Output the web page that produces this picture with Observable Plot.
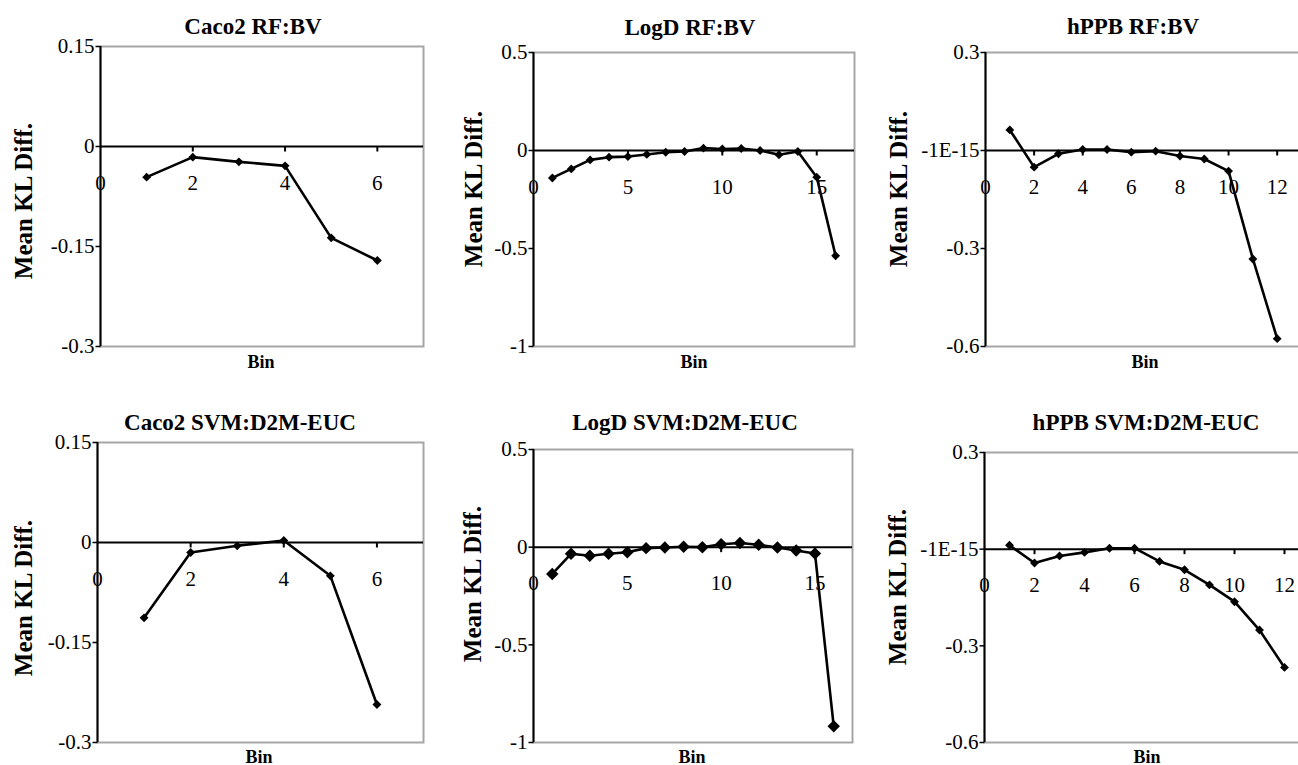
<!DOCTYPE html>
<html><head><meta charset="utf-8">
<script src="https://cdn.jsdelivr.net/npm/d3@7"></script>
<script src="https://cdn.jsdelivr.net/npm/@observablehq/plot@0.6"></script>
<style>
html,body{margin:0;padding:0;background:#fff;overflow:hidden;width:1298px;height:765px;}
#root{position:relative;width:1298px;height:765px;font-family:"Liberation Serif","Times New Roman",serif;color:#000;}
.lbl{position:absolute;transform:translate(-50%,-50%);white-space:nowrap;line-height:1;font-weight:bold;}
.rot{transform:translate(-50%,-50%) rotate(-90deg);}
.pan{position:absolute;}
</style></head><body><div id="root"></div><script>
// ---- data ----
const caco2Bins = [1, 2, 3, 4, 5, 6];
const logdBins = [1, 2, 3, 4, 5, 6, 7, 8, 9, 10, 11, 12, 13, 14, 15, 16];
const hppbBins = [1, 2, 3, 4, 5, 6, 7, 8, 9, 10, 11, 12];

const caco2RF  = [-0.046, -0.016, -0.023, -0.029, -0.137, -0.171];
const caco2SVM = [-0.113, -0.015, -0.005, 0.003, -0.050, -0.243];
const logdRF   = [-0.140, -0.094, -0.048, -0.034, -0.031, -0.020, -0.009, -0.005, 0.012, 0.008, 0.010, 0.000, -0.022, -0.005, -0.136, -0.537];
const logdSVM  = [-0.137, -0.034, -0.044, -0.034, -0.026, -0.005, -0.002, 0.002, 0.000, 0.015, 0.021, 0.012, -0.002, -0.017, -0.032, -0.917];
const hppbRF   = [0.063, -0.051, -0.010, 0.003, 0.003, -0.005, -0.002, -0.017, -0.026, -0.063, -0.332, -0.576];
const hppbSVM  = [0.012, -0.043, -0.021, -0.010, 0.003, 0.003, -0.038, -0.064, -0.111, -0.163, -0.251, -0.367];

const caco2XTicks = [0, 2, 4, 6];
const caco2XDomain = [0, 7];
const caco2YTicks = [0.15, 0, -0.15, -0.3];
const caco2YLabels = ["0.15", "0", "-0.15", "-0.3"];

const logdXTicks = [0, 5, 10, 15];
const logdXDomain = [0, 17];
const logdYTicks = [0.5, 0, -0.5, -1];
const logdYLabels = ["0.5", "0", "-0.5", "-1"];

const hppbXTicks = [0, 2, 4, 6, 8, 10, 12];
const hppbXDomain = [0, 13];
const hppbYTicks = [0.3, 0, -0.3, -0.6];
const hppbYLabels = ["0.3", "-1E-15", "-0.3", "-0.6"];

const titles = ["Caco2 RF:BV", "LogD RF:BV", "hPPB RF:BV", "Caco2 SVM:D2M-EUC", "LogD SVM:D2M-EUC", "hPPB SVM:D2M-EUC"];
const yAxisLabel = "Mean KL Diff.";
const xAxisLabel = "Bin";

// ---- layout (positions only) ----
const layout = [
  {box: [100, 46, 423, 346], titleC: [253, 26], ylabC: [22.5, 201], binC: [261, 362], r: 4},
  {box: [533, 52, 854, 346], titleC: [690, 27], ylabC: [472.5, 189], binC: [694, 362], r: 4},
  {box: [985, 52, 1301, 346], titleC: [1133, 25.5], ylabC: [897.5, 189], binC: [1145, 362], r: 4},
  {box: [97, 442, 423, 742], titleC: [240, 421.5], ylabC: [22.5, 597.5], binC: [259, 757], r: 4},
  {box: [533, 449, 852, 742], titleC: [685, 421.5], ylabC: [472, 584], binC: [692, 757], r: 5.6},
  {box: [984, 452, 1309, 742], titleC: [1146, 421.5], ylabC: [897, 587], binC: [1147, 757], r: 4}
];

const series = [
  {bins: caco2Bins, values: caco2RF, xTicks: caco2XTicks, xDomain: caco2XDomain, yTicks: caco2YTicks, yLabels: caco2YLabels},
  {bins: logdBins, values: logdRF, xTicks: logdXTicks, xDomain: logdXDomain, yTicks: logdYTicks, yLabels: logdYLabels},
  {bins: hppbBins, values: hppbRF, xTicks: hppbXTicks, xDomain: hppbXDomain, yTicks: hppbYTicks, yLabels: hppbYLabels},
  {bins: caco2Bins, values: caco2SVM, xTicks: caco2XTicks, xDomain: caco2XDomain, yTicks: caco2YTicks, yLabels: caco2YLabels},
  {bins: logdBins, values: logdSVM, xTicks: logdXTicks, xDomain: logdXDomain, yTicks: logdYTicks, yLabels: logdYLabels},
  {bins: hppbBins, values: hppbSVM, xTicks: hppbXTicks, xDomain: hppbXDomain, yTicks: hppbYTicks, yLabels: hppbYLabels}
];

const tickDown = {draw(ctx) { ctx.moveTo(0, 0); ctx.lineTo(0, 5); }};
const tickLeft = {draw(ctx) { ctx.moveTo(0, 0); ctx.lineTo(-5, 0); }};
const TICKFONT = 21;

const root = document.getElementById("root");
const ML = 80, MR = 5, MT = 10, MB = 10;

series.forEach((s, k) => {
  const L = layout[k];
  const [x0, y0, x1, y1] = L.box;
  const data = s.bins.map((b, i) => ({bin: b, v: s.values[i]}));
  const yDom = [d3.min(s.yTicks), d3.max(s.yTicks)];
  const yTickData = s.yTicks.map((t, i) => ({t, label: s.yLabels[i]}));
  const plot = Plot.plot({
    width: ML + (x1 - x0) + MR,
    height: MT + (y1 - y0) + MB,
    marginLeft: ML, marginRight: MR, marginTop: MT, marginBottom: MB,
    style: {background: "transparent", overflow: "visible", fontFamily: '"Liberation Serif","Times New Roman",serif', fontSize: TICKFONT + "px", color: "#000"},
    x: {domain: s.xDomain, axis: null},
    y: {domain: yDom, axis: null},
    marks: [
      Plot.frame({stroke: "#a6a6a6", strokeWidth: 2}),
      Plot.ruleX([s.xDomain[0]], {stroke: "#000", strokeWidth: 2}),
      Plot.ruleY([0], {stroke: "#000", strokeWidth: 2}),
      // y axis ticks & labels
      Plot.dot(yTickData, {x: () => s.xDomain[0], y: "t", symbol: tickLeft, stroke: "#000", strokeWidth: 1.5, fill: "none", r: 3}),
      Plot.text(yTickData, {x: () => s.xDomain[0], y: "t", text: "label", textAnchor: "end", dx: -6, fontSize: TICKFONT, fill: "#000"}),
      // x axis ticks & labels along the zero line
      Plot.dot(s.xTicks.filter(t => t !== s.xDomain[0]), {x: d => d, y: () => 0, symbol: tickDown, stroke: "#000", strokeWidth: 2, fill: "none", r: 3}),
      Plot.text(s.xTicks, {x: d => d, y: () => 0, text: d => String(d), dy: 36.5, fontSize: TICKFONT, fill: "#000"}),
      Plot.line(data, {x: "bin", y: "v", stroke: "#000", strokeWidth: 2.6}),
      Plot.dot(data, {x: "bin", y: "v", symbol: "diamond2", r: L.r, fill: "#000", stroke: "none"})
    ]
  });
  plot.classList.add("pan");
  plot.style.left = (x0 - ML) + "px";
  plot.style.top = (y0 - MT) + "px";
  root.appendChild(plot);

  const t = document.createElement("div");
  t.className = "lbl"; t.textContent = titles[k];
  t.style.fontSize = "23px"; t.style.left = L.titleC[0] + "px"; t.style.top = L.titleC[1] + "px";
  root.appendChild(t);

  const yl = document.createElement("div");
  yl.className = "lbl rot"; yl.textContent = yAxisLabel;
  yl.style.fontSize = "25px"; yl.style.left = L.ylabC[0] + "px"; yl.style.top = L.ylabC[1] + "px";
  root.appendChild(yl);

  const xl = document.createElement("div");
  xl.className = "lbl"; xl.textContent = xAxisLabel;
  xl.style.fontSize = "18px"; xl.style.left = L.binC[0] + "px"; xl.style.top = L.binC[1] + "px";
  root.appendChild(xl);
});
</script></body></html>
